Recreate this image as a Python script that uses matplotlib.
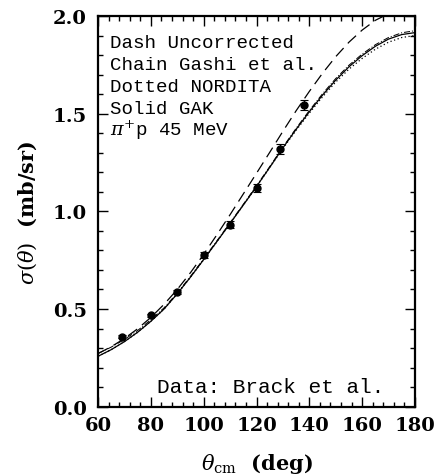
import matplotlib
matplotlib.use("Agg")
import matplotlib.pyplot as plt
from matplotlib.ticker import MultipleLocator, FormatStrFormatter

# ---- data ----
theta = [60, 65, 70, 75, 80, 85, 90, 95, 100, 105, 110, 115, 120, 125, 130,
         135, 140, 145, 150, 155, 160, 165, 170, 175, 180]
gak = [0.258, 0.292, 0.333, 0.381, 0.437, 0.500, 0.578, 0.663, 0.753, 0.845,
       0.938, 1.032, 1.127, 1.225, 1.325, 1.420, 1.510, 1.595, 1.672, 1.740,
       1.797, 1.845, 1.882, 1.905, 1.915]
gashi = [0.272, 0.305, 0.344, 0.390, 0.445, 0.506, 0.582, 0.667, 0.757, 0.849,
         0.942, 1.036, 1.131, 1.229, 1.329, 1.425, 1.516, 1.602, 1.680, 1.748,
         1.805, 1.853, 1.890, 1.914, 1.925]
nordita = [0.258, 0.292, 0.333, 0.381, 0.437, 0.500, 0.578, 0.663, 0.753, 0.845,
           0.938, 1.032, 1.127, 1.224, 1.322, 1.415, 1.503, 1.586, 1.662, 1.728,
           1.783, 1.830, 1.866, 1.890, 1.900]
uncorr = [0.272, 0.307, 0.349, 0.399, 0.457, 0.524, 0.600, 0.686, 0.780, 0.880,
          0.983, 1.089, 1.195, 1.302, 1.410, 1.515, 1.614, 1.707, 1.792, 1.866,
          1.928, 1.978, 2.012, 2.032, 2.040]

data_theta = [69, 80, 90, 100, 110, 120, 129, 138]
data_sigma = [0.359, 0.467, 0.587, 0.778, 0.932, 1.120, 1.320, 1.544]
data_err = [0.008, 0.010, 0.010, 0.015, 0.018, 0.020, 0.026, 0.025]

legend_lines = ["Dash Uncorrected", "Chain Gashi et al.", "Dotted NORDITA",
                "Solid GAK", r"$\pi^{+}$p 45 MeV"]

plt.rcParams['mathtext.fontset'] = 'dejavuserif'

fig = plt.figure(figsize=(4.38, 4.77), dpi=100)
ax = fig.add_axes([98/438, 1 - 407.7/477, 317/438, 390.7/477])

lw = 0.9
ax.plot(theta, uncorr, color='black', lw=lw, ls=(0, (9, 5)))
ax.plot(theta, gashi, color='black', lw=lw*0.8, ls=(0, (6, 2, 1, 2)))
ax.plot(theta, nordita, color='black', lw=lw, ls=(0, (1, 2)))
ax.plot(theta, gak, color='black', lw=lw)
ax.errorbar(data_theta, data_sigma, yerr=data_err, fmt='o', color='black',
            ms=5, elinewidth=0.8, capsize=3, capthick=0.8)

ax.set_xlim(60, 180)
ax.set_ylim(0.0, 2.0)
ax.xaxis.set_major_locator(MultipleLocator(20))
ax.xaxis.set_minor_locator(MultipleLocator(4))
ax.yaxis.set_major_locator(MultipleLocator(0.5))
ax.yaxis.set_minor_locator(MultipleLocator(0.1))
ax.yaxis.set_major_formatter(FormatStrFormatter('%.1f'))
ax.tick_params(which='both', direction='in', top=True, right=True,
               width=1.0, color='black')
ax.tick_params(which='major', length=7)
ax.tick_params(which='minor', length=3.5)
ax.tick_params(axis='both', labelsize=14)
ax.tick_params(axis='x', pad=7)
ax.tick_params(axis='y', pad=8)
for lab in ax.get_xticklabels() + ax.get_yticklabels():
    lab.set_family('DejaVu Serif')
    lab.set_fontweight('bold')
for s in ax.spines.values():
    s.set_linewidth(1.6)

ax.set_xlabel(r"$\theta_{\rm cm}$  (deg)",
              family='DejaVu Serif', fontweight='bold', fontsize=15, labelpad=12)
ax.set_ylabel(r"$\sigma(\theta)$  (mb/sr)", family='DejaVu Serif',
              fontweight='bold', fontsize=15, labelpad=10)

y0 = 48.3
for i, t in enumerate(legend_lines):
    ypx = y0 + i * 22
    ax.text(0.038, (407.7 - ypx) / 390.7, t, transform=ax.transAxes,
            family='Liberation Mono', fontsize=13.8, va='baseline', ha='left')

ax.text(0.186, (407.7 - 393) / 390.7, "Data: Brack et al.", transform=ax.transAxes,
        family='Liberation Mono', fontsize=15.2, va='baseline', ha='left')

fig.savefig("out.png", dpi=100)
